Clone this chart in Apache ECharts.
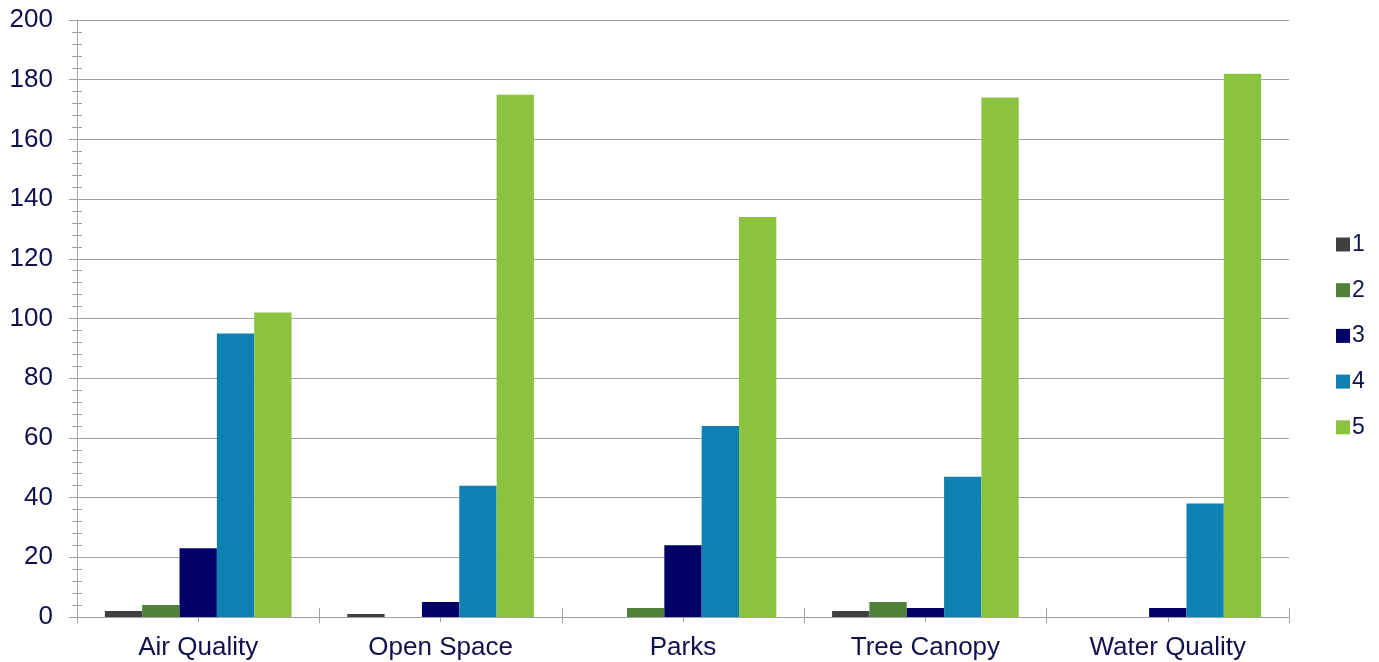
<!DOCTYPE html>
<html><head><meta charset="utf-8">
<script src="https://cdn.jsdelivr.net/npm/echarts@6/dist/echarts.min.js"></script>
<style>html,body{margin:0;padding:0;background:#fff}#c{width:1379px;height:662px}</style>
</head><body><div id="c"></div>
<script>
const categories = ['Air Quality', 'Open Space', 'Parks', 'Tree Canopy', 'Water Quality'];
const seriesNames = ['1', '2', '3', '4', '5'];
const s1 = [2, 1, 0, 2, 0];
const s2 = [4, 0, 3, 5, 0];
const s3 = [23, 5, 24, 3, 3];
const s4 = [95, 44, 64, 47, 38];
const s5 = [102, 175, 134, 174, 182];
const colors = ['#404040', '#4F8139', '#000066', '#0E80B1', '#8BC23F'];
const allValues = [s1, s2, s3, s4, s5];

const txt = '#10104F';
const gray = '#A0A0AA';
const font = 'Liberation Sans, Arial, sans-serif';
const chart = echarts.init(document.getElementById('c'), null, {renderer: 'canvas'});
chart.setOption({
  animation: false,
  textStyle: {fontFamily: font},
  legend: {
    orient: 'vertical', left: 1331, top: 228,
    itemWidth: 14, itemHeight: 14, itemGap: 22.7,
    icon: 'rect',
    textStyle: {color: txt, fontSize: 23, fontFamily: font, padding: [0, 0, 0, -3]},
    data: seriesNames
  },
  grid: {left: 77, right: 90, top: 20, bottom: 45},
  xAxis: [
    {type: 'category', data: categories, position: 'bottom',
     axisLine: {lineStyle: {color: gray, width: 1}},
     axisTick: {show: true, length: 6, lineStyle: {color: gray}},
     axisLabel: {color: txt, fontSize: 26, margin: 18, fontFamily: font},
     splitLine: {show: false}},
    {type: 'category', data: categories, position: 'bottom',
     axisLine: {show: false}, axisLabel: {show: false},
     axisTick: {show: true, inside: true, length: 9, lineStyle: {color: gray}}},
    {type: 'category', data: categories, position: 'bottom',
     axisLine: {show: false}, axisLabel: {show: false},
     axisTick: {show: true, alignWithLabel: true, length: 5, lineStyle: {color: gray}}}
  ],
  yAxis: [
    {type: 'value', min: 0, max: 200, interval: 20, position: 'left',
     axisLine: {show: true, lineStyle: {color: gray}},
     axisTick: {show: true, length: 8, lineStyle: {color: gray}},
     minorTick: {show: true, splitNumber: 5, length: 5, lineStyle: {color: gray}},
     axisLabel: {color: txt, fontSize: 26, margin: 24, fontFamily: font},
     splitLine: {show: true, lineStyle: {color: gray, width: 1}}},
    {type: 'value', min: 0, max: 200, interval: 20, position: 'left',
     axisLine: {show: false},
     axisTick: {show: true, inside: true, length: 8, lineStyle: {color: gray}},
     minorTick: {show: true, splitNumber: 5, length: 5, lineStyle: {color: gray}},
     axisLabel: {show: false},
     splitLine: {show: false}}
  ],
  series: seriesNames.map((n, i) => ({
    name: n, type: 'bar', data: allValues[i],
    itemStyle: {color: colors[i]},
    barGap: '0%', barCategoryGap: '23%'
  }))
});
</script></body></html>
